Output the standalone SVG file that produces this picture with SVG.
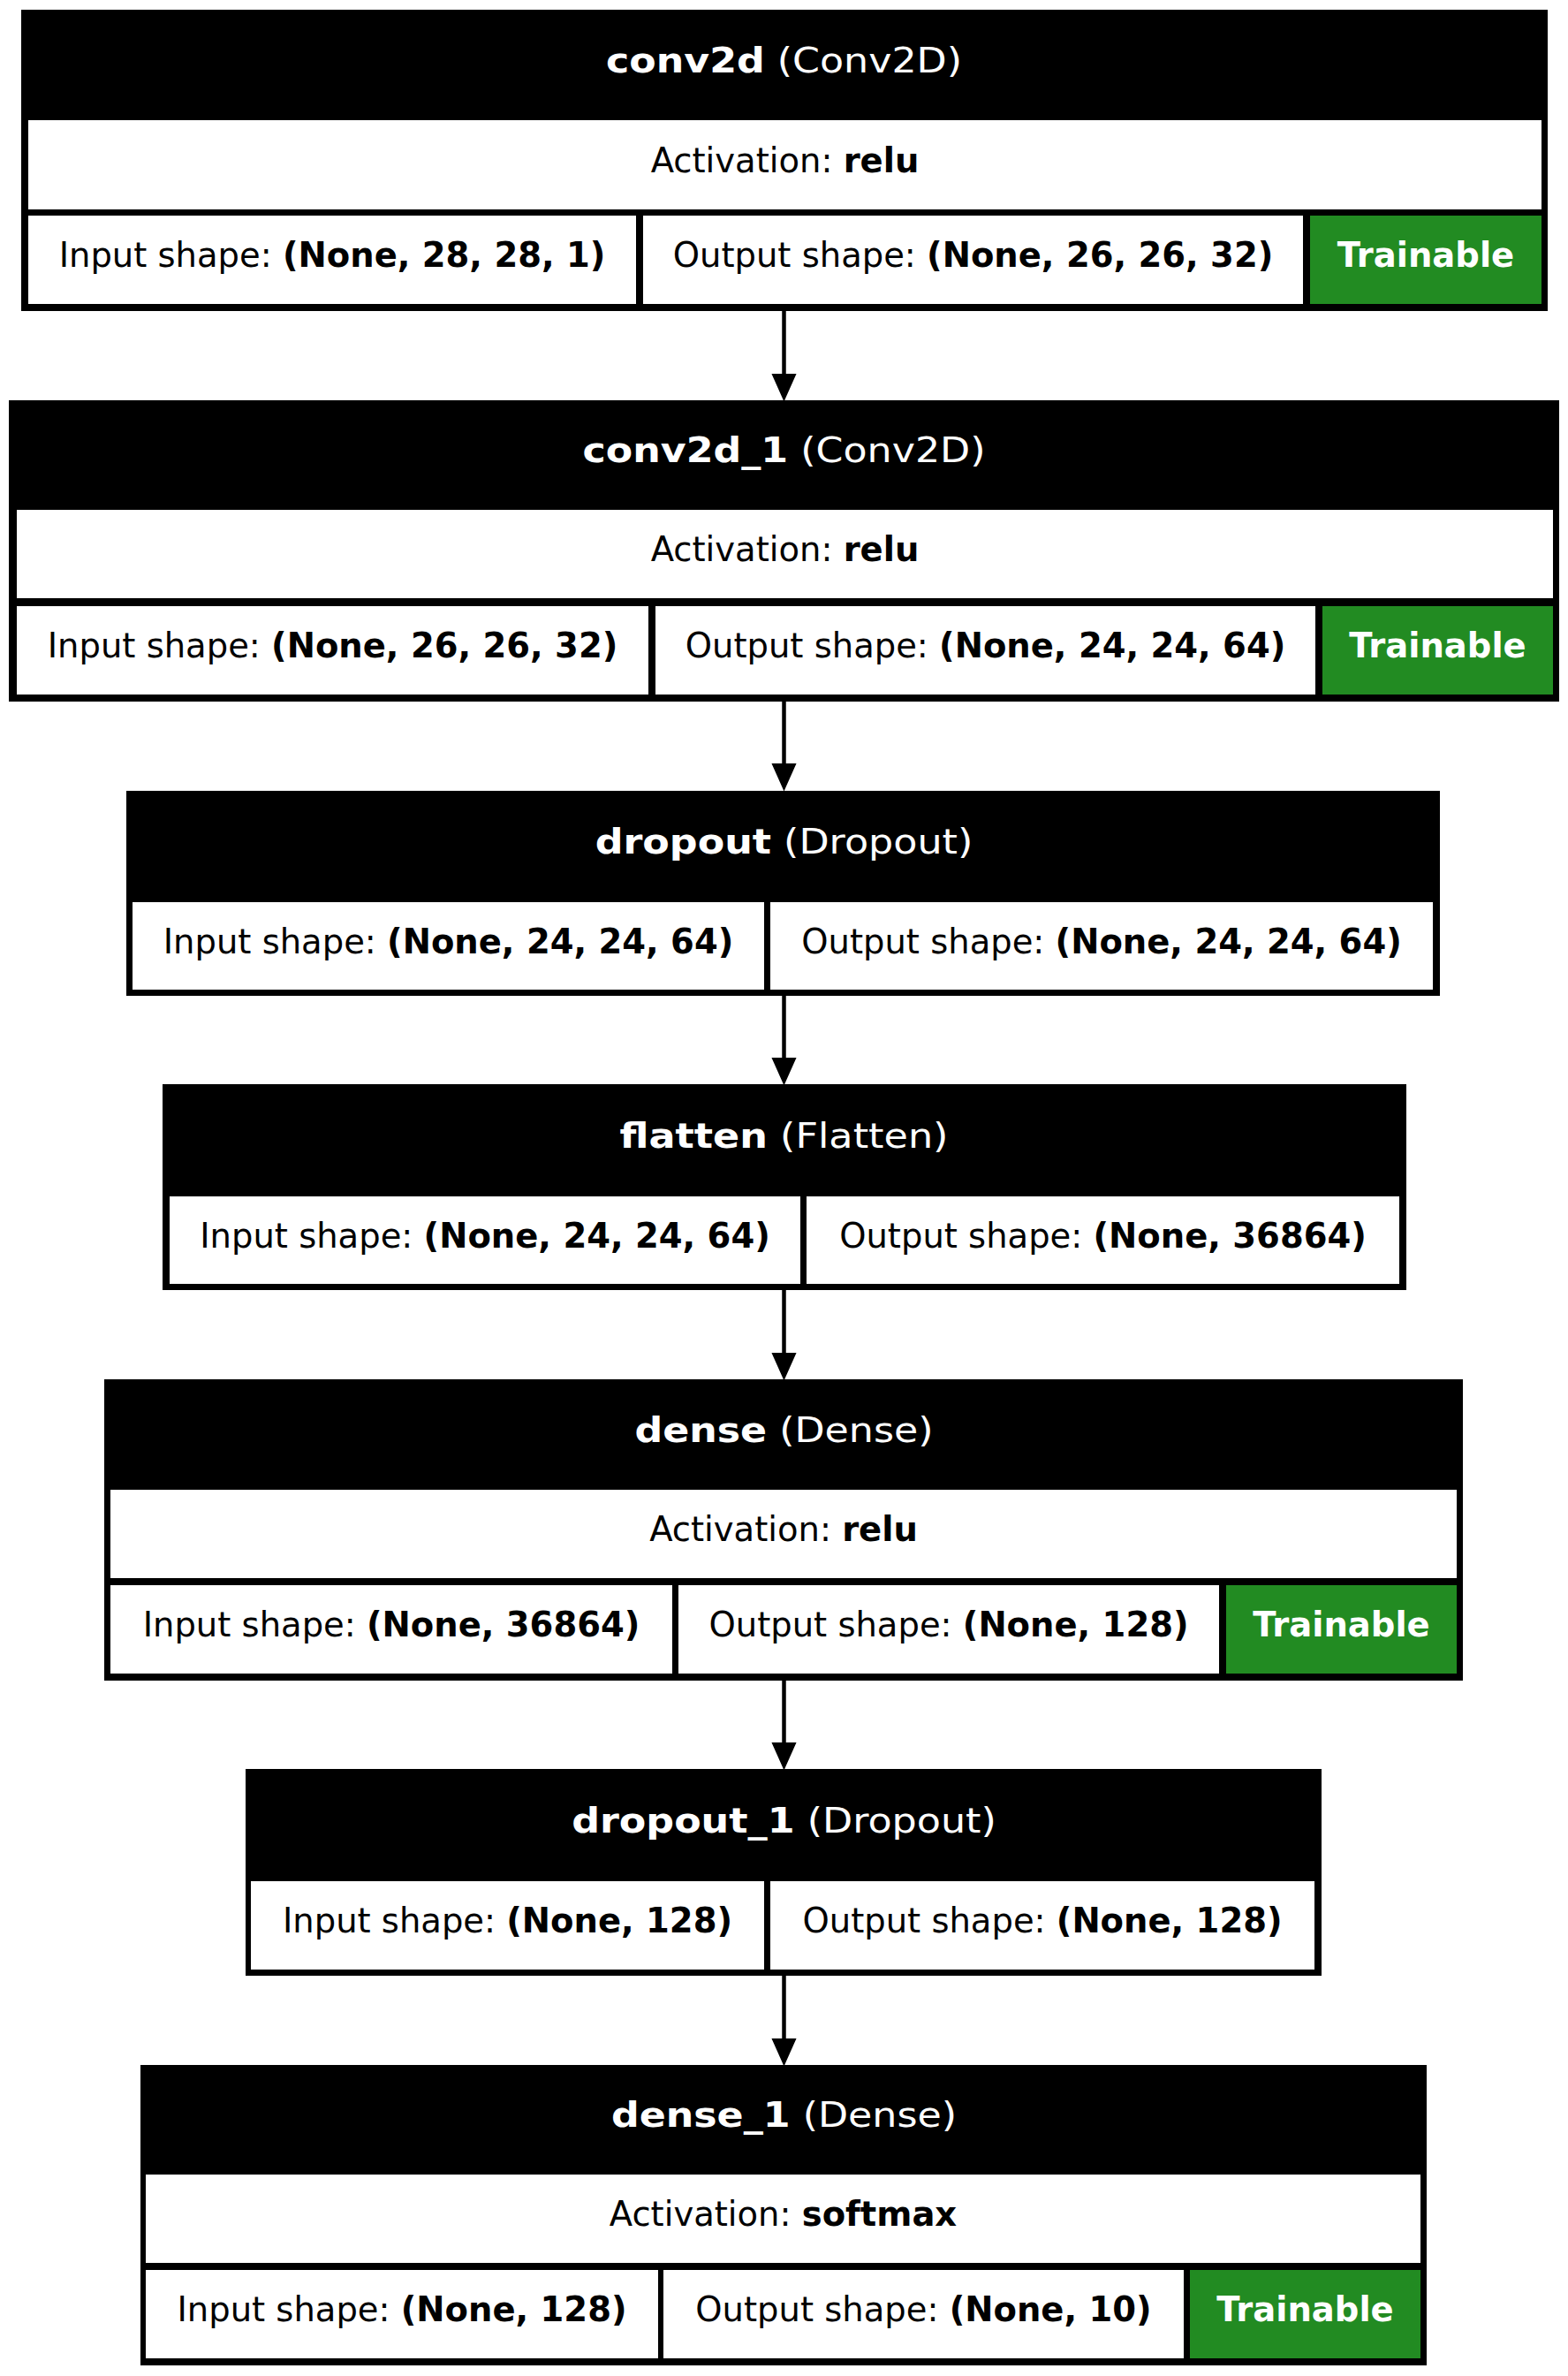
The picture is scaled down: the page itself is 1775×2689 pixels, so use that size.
<svg xmlns="http://www.w3.org/2000/svg" width="1775" height="2689" viewBox="0 0 1775 2689">
<style>
.frame{fill:#000}
.cell{fill:#fff}
.train{fill:#228b22}
text{font-family:"DejaVu Sans","Liberation Sans",sans-serif;text-anchor:middle}
.hd{font-size:39px;fill:#fff}
.bd{font-size:38.5px;fill:#000}
.tr{font-size:38.5px;fill:#fff;font-weight:bold}
.b{font-weight:bold}
.edge{stroke:#000;stroke-width:4.5;fill:none}
.head{fill:#000;stroke:#000;stroke-width:2}
</style>
<rect width="1775" height="2689" fill="#fff"/>
<g id="edges">
<line class="edge" x1="887.5" y1="352" x2="887.5" y2="424"/><polygon class="head" points="875,424 900,424 887.5,452"/>
<line class="edge" x1="887.5" y1="794" x2="887.5" y2="865"/><polygon class="head" points="875,865 900,865 887.5,893"/>
<line class="edge" x1="887.5" y1="1127" x2="887.5" y2="1198"/><polygon class="head" points="875,1198 900,1198 887.5,1226"/>
<line class="edge" x1="887.5" y1="1460" x2="887.5" y2="1532"/><polygon class="head" points="875,1532 900,1532 887.5,1560"/>
<line class="edge" x1="887.5" y1="1902" x2="887.5" y2="1973"/><polygon class="head" points="875,1973 900,1973 887.5,2001"/>
<line class="edge" x1="887.5" y1="2236" x2="887.5" y2="2308"/><polygon class="head" points="875,2308 900,2308 887.5,2336"/>
</g>
<g id="conv2d">
<rect class="frame" x="24" y="11" width="1728" height="341"/>
<rect class="cell" x="32" y="136" width="1713" height="101"/>
<rect class="cell" x="32" y="244" width="688" height="100"/>
<rect class="cell" x="728" y="244" width="747" height="100"/>
<rect class="train" x="1483" y="244" width="262" height="100"/>
<text class="hd" x="887.5" y="81.5" textLength="403" lengthAdjust="spacingAndGlyphs"><tspan class="b">conv2d</tspan> (Conv2D)</text>
<text class="bd" x="888.5" y="194.5">Activation: <tspan class="b">relu</tspan></text>
<text class="bd" x="376" y="302">Input shape: <tspan class="b">(None, 28, 28, 1)</tspan></text>
<text class="bd" x="1101.5" y="302">Output shape: <tspan class="b">(None, 26, 26, 32)</tspan></text>
<text class="tr" x="1614" y="302">Trainable</text>
</g>
<g id="conv2d_1">
<rect class="frame" x="10" y="453" width="1755" height="341"/>
<rect class="cell" x="19" y="577" width="1739" height="100"/>
<rect class="cell" x="19" y="686" width="715" height="100"/>
<rect class="cell" x="742" y="686" width="747" height="100"/>
<rect class="train" x="1497" y="686" width="261" height="100"/>
<text class="hd" x="887.5" y="523" textLength="456" lengthAdjust="spacingAndGlyphs"><tspan class="b">conv2d_1</tspan> (Conv2D)</text>
<text class="bd" x="888.5" y="635">Activation: <tspan class="b">relu</tspan></text>
<text class="bd" x="376.5" y="744">Input shape: <tspan class="b">(None, 26, 26, 32)</tspan></text>
<text class="bd" x="1115.5" y="744">Output shape: <tspan class="b">(None, 24, 24, 64)</tspan></text>
<text class="tr" x="1627.5" y="744">Trainable</text>
</g>
<g id="dropout">
<rect class="frame" x="143" y="895" width="1487" height="232"/>
<rect class="cell" x="150" y="1021" width="715" height="99"/>
<rect class="cell" x="872" y="1021" width="750" height="99"/>
<text class="hd" x="887.5" y="965.5" textLength="427.6" lengthAdjust="spacingAndGlyphs"><tspan class="b">dropout</tspan> (Dropout)</text>
<text class="bd" x="507.5" y="1078.5">Input shape: <tspan class="b">(None, 24, 24, 64)</tspan></text>
<text class="bd" x="1247" y="1078.5">Output shape: <tspan class="b">(None, 24, 24, 64)</tspan></text>
</g>
<g id="flatten">
<rect class="frame" x="184" y="1227" width="1408" height="233"/>
<rect class="cell" x="192" y="1354" width="714" height="99"/>
<rect class="cell" x="913" y="1354" width="671" height="99"/>
<text class="hd" x="887.5" y="1298.5" textLength="371.9" lengthAdjust="spacingAndGlyphs"><tspan class="b">flatten</tspan> (Flatten)</text>
<text class="bd" x="549" y="1411.5">Input shape: <tspan class="b">(None, 24, 24, 64)</tspan></text>
<text class="bd" x="1248.5" y="1411.5">Output shape: <tspan class="b">(None, 36864)</tspan></text>
</g>
<g id="dense">
<rect class="frame" x="118" y="1561" width="1538" height="341"/>
<rect class="cell" x="125" y="1686" width="1524" height="100"/>
<rect class="cell" x="125" y="1794" width="636" height="100"/>
<rect class="cell" x="768" y="1794" width="612" height="100"/>
<rect class="train" x="1388" y="1794" width="261" height="100"/>
<text class="hd" x="887.5" y="1631.5" textLength="338.1" lengthAdjust="spacingAndGlyphs"><tspan class="b">dense</tspan> (Dense)</text>
<text class="bd" x="887" y="1744">Activation: <tspan class="b">relu</tspan></text>
<text class="bd" x="443" y="1852">Input shape: <tspan class="b">(None, 36864)</tspan></text>
<text class="bd" x="1074" y="1852">Output shape: <tspan class="b">(None, 128)</tspan></text>
<text class="tr" x="1518.5" y="1852">Trainable</text>
</g>
<g id="dropout_1">
<rect class="frame" x="278" y="2002" width="1218" height="234"/>
<rect class="cell" x="284" y="2129" width="581" height="100"/>
<rect class="cell" x="872" y="2129" width="616" height="100"/>
<text class="hd" x="887.5" y="2073.5" textLength="480.6" lengthAdjust="spacingAndGlyphs"><tspan class="b">dropout_1</tspan> (Dropout)</text>
<text class="bd" x="574.5" y="2187">Input shape: <tspan class="b">(None, 128)</tspan></text>
<text class="bd" x="1180" y="2187">Output shape: <tspan class="b">(None, 128)</tspan></text>
</g>
<g id="dense_1">
<rect class="frame" x="159" y="2337" width="1456" height="340"/>
<rect class="cell" x="165" y="2461" width="1443" height="100"/>
<rect class="cell" x="165" y="2569" width="580" height="100"/>
<rect class="cell" x="751" y="2569" width="589" height="100"/>
<rect class="train" x="1347" y="2569" width="261" height="100"/>
<text class="hd" x="887.5" y="2407" textLength="391.1" lengthAdjust="spacingAndGlyphs"><tspan class="b">dense_1</tspan> (Dense)</text>
<text class="bd" x="886.5" y="2519">Activation: <tspan class="b">softmax</tspan></text>
<text class="bd" x="455" y="2627">Input shape: <tspan class="b">(None, 128)</tspan></text>
<text class="bd" x="1045.5" y="2627">Output shape: <tspan class="b">(None, 10)</tspan></text>
<text class="tr" x="1477.5" y="2627">Trainable</text>
</g>
</svg>
